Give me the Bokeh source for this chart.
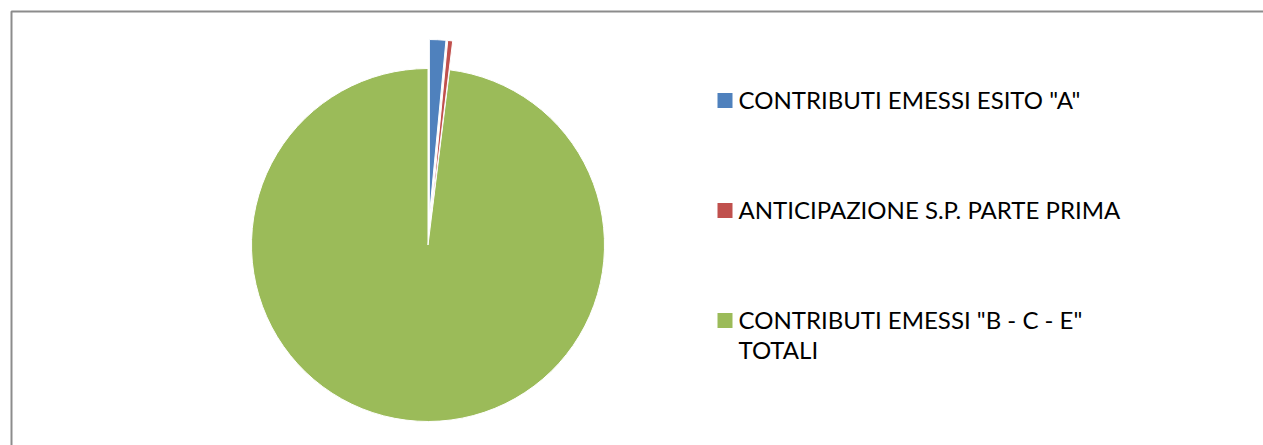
import math
from bokeh.plotting import figure
from bokeh.models import Range1d, ColumnDataSource
from bokeh.core.properties import value
from bokeh.embed import file_html
from bokeh.resources import INLINE

# ---- data ----
categories = [
    'CONTRIBUTI EMESSI ESITO "A"',
    'ANTICIPAZIONE S.P. PARTE PRIMA',
    'CONTRIBUTI EMESSI "B - C - E"\nTOTALI',
]
values = [1.5, 0.45, 98.05]
colors = ["#4F81BD", "#C0504D", "#9BBB59"]
exploded = [True, True, False]

W, H = 1263, 445
p = figure(width=W, height=H, output_backend="svg", toolbar_location=None,
           x_range=Range1d(0, W), y_range=Range1d(0, H),
           x_axis_location=None, y_axis_location=None, min_border=0)
p.outline_line_color = None
p.xgrid.visible = False
p.ygrid.visible = False
p.background_fill_color = "white"
p.border_fill_color = "white"

# chart-area border (top and left visible; rest cropped)
p.line([11, 11, W + 5], [-5, 434, 434], line_color="#8c8c8c", line_width=2)

# pie
cx, cy, R = 427.5, 200.5, 176.5
explode_d = 29
total = sum(values)
cum = 0.0
xs, ys, starts, ends = [], [], [], []
for v, ex in zip(values, exploded):
    a0 = cum / total * 2 * math.pi
    a1 = (cum + v) / total * 2 * math.pi
    cum += v
    mid = (a0 + a1) / 2
    d = explode_d if ex else 0
    xs.append(cx + d * math.sin(mid))
    ys.append(cy + d * math.cos(mid))
    starts.append(math.pi / 2 - a0)
    ends.append(math.pi / 2 - a1)
order = [2, 0, 1]
src = ColumnDataSource(dict(
    x=[xs[i] for i in order], y=[ys[i] for i in order],
    s=[starts[i] for i in order], e=[ends[i] for i in order],
    c=[colors[i] for i in order]))
p.wedge(x="x", y="y", radius=R, start_angle="s", end_angle="e",
        direction="clock", fill_color="c", line_color="white",
        line_width=1, source=src)

# legend
lx, ly0, dy, sq = 724.5, 345, 110, 15
lsrc = ColumnDataSource(dict(
    x=[lx] * len(categories),
    y=[ly0 - i * dy for i in range(len(categories))],
    tx=[738] * len(categories),
    ty=[ly0 - i * dy + 4 for i in range(len(categories))],
    c=colors, t=categories))
p.rect(x="x", y="y", width=sq, height=sq, fill_color="c", line_color=None, source=lsrc)
p.text(x="tx", y="ty", text="t", source=lsrc, text_font=value("Lato"),
       text_font_size="24px", text_baseline="top", text_color="black",
       text_line_height=1.05, y_offset=-12)

open("out.html", "w").write(file_html(p, INLINE))
